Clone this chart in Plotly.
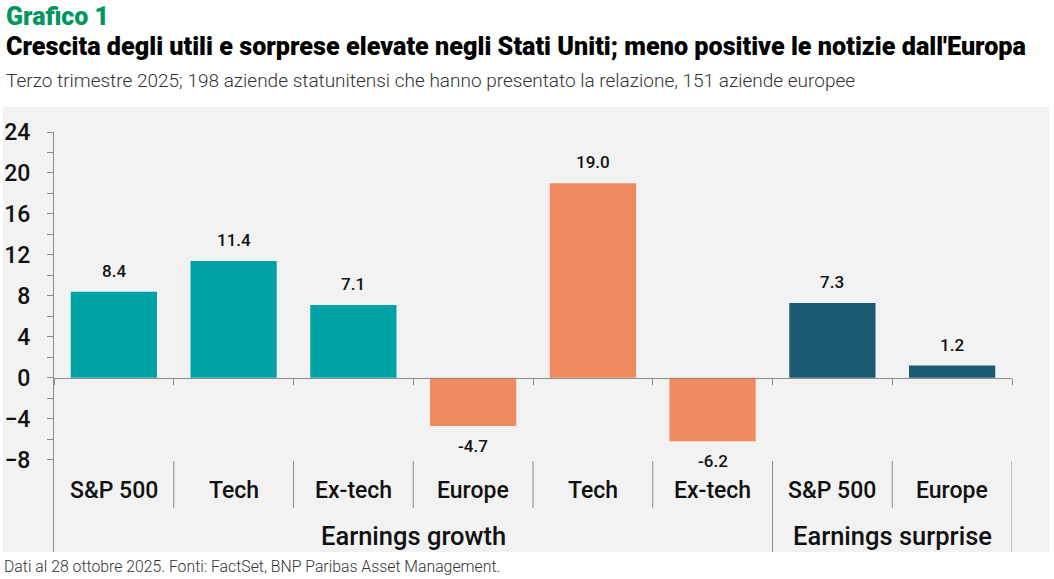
import plotly.graph_objects as go

# ---- data ----
groups = ["Earnings growth"] * 6 + ["Earnings surprise"] * 2
labels = ["S&P 500", "Tech", "Ex-tech", "Europe", "Tech", "Ex-tech", "S&P 500", "Europe"]
values = [8.4, 11.4, 7.1, -4.7, 19.0, -6.2, 7.3, 1.2]
bar_colors = ["#00a3a5", "#00a3a5", "#00a3a5", "#f18a5e", "#f18a5e", "#f18a5e", "#1b5a70", "#1b5a70"]
y_ticks = [-8, -4, 0, 4, 8, 12, 16, 20, 24]
y_minor = [-6, -2, 2, 6, 10, 14, 18, 22]

kicker = "Grafico 1"
title = "Crescita degli utili e sorprese elevate negli Stati Uniti; meno positive le notizie dall'Europa"
subtitle = "Terzo trimestre 2025; 198 aziende statunitensi che hanno presentato la relazione, 151 aziende europee"
footer = "Dati al 28 ottobre 2025. Fonti: FactSet, BNP Paribas Asset Management."

# ---- layout geometry (pixels) ----
W, H = 1054, 579
L, R, T, B = 54, 42, 132, 27
PW, PH = W - L - R, H - T - B
YMIN, YMAX = -17, 24

def px_x(px):
    return (px - L) / PW

def px_y(py):
    return (H - B - py) / PH

ids = [f"{g}|{l}|{i}" for i, (g, l) in enumerate(zip(groups, labels))]
FONT = "Roboto"
AX = "#8c8c8c"

fig = go.Figure()
fig.add_trace(go.Bar(x=ids, y=values, marker=dict(color=bar_colors, line=dict(width=0)),
                     hoverinfo="skip", showlegend=False))

shapes = [dict(type="rect", xref="paper", yref="paper", x0=px_x(3), x1=px_x(1049),
               y0=px_y(552), y1=px_y(107), fillcolor="#f2f2f2", line=dict(width=0), layer="below")]

# separators in category label area
n = len(ids)
for i in range(1, n + 1):
    is_group_edge = (i == n) or (groups[i] != groups[i - 1])
    shapes.append(dict(type="line", xref="x", yref="paper", x0=i - 0.5, x1=i - 0.5,
                       y0=px_y(552) if is_group_edge else px_y(508), y1=px_y(461),
                       line=dict(color=AX, width=1)))

annotations = []
for cid, v in zip(ids, values):
    annotations.append(dict(x=cid, y=v, xref="x", yref="y", text=f"{v:.1f}", showarrow=False,
                            yshift=21 if v >= 0 else -20, yanchor="middle",
                            font=dict(family=FONT, size=17, color="#111", weight=500)))
for i, l in enumerate(labels):
    annotations.append(dict(x=i, y=px_y(490), xref="x", yref="paper", text=l, showarrow=False,
                            yanchor="middle", font=dict(family=FONT, size=23, color="#111", weight=500)))
for g in dict.fromkeys(groups):
    idx = [i for i, gg in enumerate(groups) if gg == g]
    annotations.append(dict(x=(idx[0] + idx[-1]) / 2, y=px_y(536), xref="x", yref="paper", text=g,
                            showarrow=False, yanchor="middle",
                            font=dict(family=FONT, size=25.5, color="#111", weight=500)))

annotations += [
    dict(x=px_x(4), y=px_y(16), xref="paper", yref="paper", text=kicker, showarrow=False,
         xanchor="left", yanchor="middle", font=dict(family=FONT, size=25, color="#00965f", weight=900)),
    dict(x=px_x(4), y=px_y(46), xref="paper", yref="paper", text=title, showarrow=False,
         xanchor="left", yanchor="middle", font=dict(family=FONT, size=25.2, color="#000", weight=900)),
    dict(x=px_x(4), y=px_y(80), xref="paper", yref="paper", text=subtitle, showarrow=False,
         xanchor="left", yanchor="middle", font=dict(family=FONT, size=19, color="#333", weight=300)),
    dict(x=px_x(2), y=px_y(566), xref="paper", yref="paper", text=footer, showarrow=False,
         xanchor="left", yanchor="middle", font=dict(family=FONT, size=15.8, color="#333", weight=300)),
]

fig.update_layout(
    width=W, height=H, margin=dict(l=L, r=R, t=T, b=B, pad=0, autoexpand=False),
    paper_bgcolor="white", plot_bgcolor="rgba(0,0,0,0)",
    bargap=0.28, shapes=shapes, annotations=annotations,
    xaxis=dict(type="category", categoryorder="array", categoryarray=ids, range=[-0.5, n - 0.5],
               anchor="free", position=(0 - YMIN) / (YMAX - YMIN), showline=True, linecolor=AX,
               linewidth=1, ticks="outside", tickson="boundaries", ticklen=6, tickcolor=AX,
               showticklabels=False, showgrid=False, zeroline=False, fixedrange=True,
               automargin=False),
    yaxis=dict(range=[YMIN, YMAX], tickmode="array", tickvals=y_ticks, ticks="outside", ticklen=6,
               tickcolor=AX, showline=True, linecolor=AX, linewidth=1, showgrid=False, zeroline=False,
               ticklabelstandoff=12, automargin=False,
               tickfont=dict(family=FONT, size=23, color="#111", weight=500),
               minor=dict(tickvals=y_minor, ticks="outside", ticklen=6, tickcolor=AX, showgrid=False),
               fixedrange=True),
)

fig.write_html("out.html", config={"displayModeBar": False},
               post_script="document.body.style.margin='0';")
